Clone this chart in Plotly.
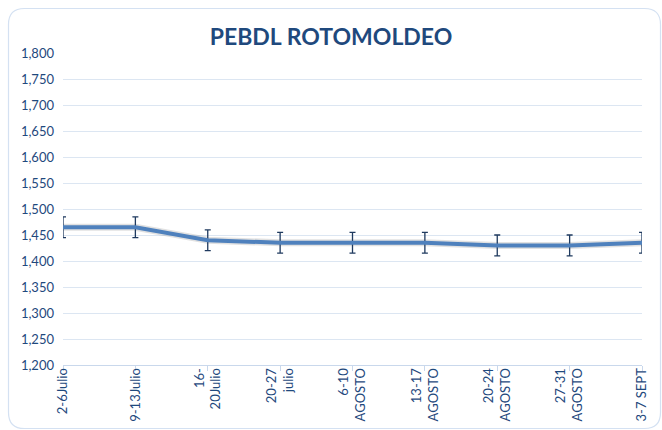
import plotly.graph_objects as go

categories = ["2-6Julio", "9-13Julio", "16-<br>20Julio", "20-27<br>julio", "6-10<br>AGOSTO",
              "13-17<br>AGOSTO", "20-24<br>AGOSTO", "27-31<br>AGOSTO", "3-7 SEPT"]
values = [1465, 1465, 1440, 1435, 1435, 1435, 1430, 1430, 1435]
errors = [20, 20, 20, 20, 20, 20, 20, 20, 20]
y_ticks = [1200, 1250, 1300, 1350, 1400, 1450, 1500, 1550, 1600, 1650, 1700, 1750, 1800]

W, H = 662, 430
ML, MR, MT, MB = 63, 20, 53, 65
PW, PH = W - ML - MR, H - MT - MB

def px(x):
    return (x - ML) / PW

def py(y):
    return 1 - (y - MT) / PH

# rounded border path in paper coords
x0, y0, x1, y1, r = 8.5, 8.5, 660.5, 428.5, 16
path = (f"M {px(x0 + r)},{py(y0)} L {px(x1 - r)},{py(y0)} "
        f"Q {px(x1)},{py(y0)} {px(x1)},{py(y0 + r)} L {px(x1)},{py(y1 - r)} "
        f"Q {px(x1)},{py(y1)} {px(x1 - r)},{py(y1)} L {px(x0 + r)},{py(y1)} "
        f"Q {px(x0)},{py(y1)} {px(x0)},{py(y1 - r)} L {px(x0)},{py(y0 + r)} "
        f"Q {px(x0)},{py(y0)} {px(x0 + r)},{py(y0)} Z")

fig = go.Figure()
fig.add_trace(go.Scatter(x=categories, y=values, mode="lines",
                         line=dict(color="rgba(90,90,90,0.18)", width=7),
                         hoverinfo="skip", showlegend=False))
fig.add_trace(go.Scatter(
    x=categories, y=values, mode="lines",
    line=dict(color="#4F81BD", width=4),
    error_y=dict(type="data", array=errors, visible=True, color="#1F3A5F",
                 thickness=1.3, width=3),
    showlegend=False))

fig.update_layout(
    width=W, height=H,
    margin=dict(l=ML, r=MR, t=MT, b=MB),
    paper_bgcolor="white", plot_bgcolor="white",
    font=dict(family="Lato, Open Sans, sans-serif", color="#1F497D", size=12),
    title=dict(text="<b>PEBDL ROTOMOLDEO</b>", x=0.5, xref="container",
               y=1 - 37 / H, yref="container", xanchor="center", yanchor="middle",
               font=dict(size=23, color="#1F497D", family="Lato, Open Sans, sans-serif")),
    xaxis=dict(type="category", tickangle=-90, range=[0, len(categories) - 1],
               automargin=False, ticklabelstandoff=-8,
               showgrid=False, showline=True, linecolor="#C9D8EC", linewidth=1,
               ticks="outside", ticklen=5, tickcolor="#C9D8EC",
               tickfont=dict(size=13, color="#1F497D")),
    yaxis=dict(range=[1200, 1800], tickvals=y_ticks, tickformat=",",
               automargin=False,
               showgrid=True, gridcolor="#DCE6F2", gridwidth=1, zeroline=False,
               ticks="", ticklabelstandoff=8,
               tickfont=dict(size=13, color="#1F497D")),
    shapes=[dict(type="path", path=path, xref="paper", yref="paper",
                 line=dict(color="#D4E1F2", width=1.2), layer="below")],
)

fig.write_html("out.html", config={"displayModeBar": False},
               post_script="document.body.style.margin='0';document.body.style.overflow='hidden';")
